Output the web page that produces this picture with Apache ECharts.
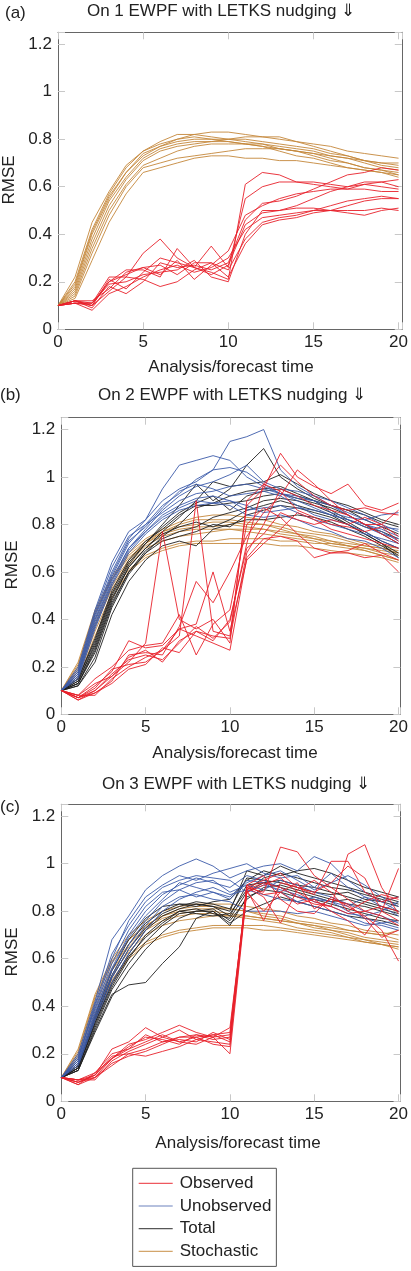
<!DOCTYPE html>
<html lang="en">
<head>
    <meta charset="UTF-8">
    <title>RMSE EWPF with LETKS nudging</title>
    <style>
        html, body {
            margin: 0;
            padding: 0;
            background: #fff;
        }
        #chart {
            width: 411px;
            height: 1271px;
        }
    </style>
    <script src="https://cdn.jsdelivr.net/npm/echarts@6/dist/echarts.min.js"></script>
</head>
<body>
    <div id="chart"></div>
    <script>
        // time axis
        const times = [0, 1, 2, 3, 4, 5, 6, 7, 8, 9, 10, 11, 12, 13, 14, 15, 16, 17, 18, 19, 20];
        const xTicks = [0, 5, 10, 15, 20];
        const yTicks = [0, 0.2, 0.4, 0.6, 0.8, 1, 1.2];
        const groupNames = ['Observed', 'Unobserved', 'Total', 'Stochastic'];
        const panelTitles = ['On 1 EWPF with LETKS nudging \u21d3', 'On 2 EWPF with LETKS nudging \u21d3', 'On 3 EWPF with LETKS nudging \u21d3'];
        const panelLabels = ['(a)', '(b)', '(c)'];

        // (a) On 1
        const stochA = [
            [0.10,0.22,0.45,0.58,0.69,0.75,0.79,0.82,0.82,0.81,0.80,0.79,0.78,0.76,0.75,0.73,0.71,0.70,0.68,0.67,0.65],
            [0.10,0.20,0.42,0.57,0.68,0.75,0.78,0.80,0.82,0.83,0.83,0.82,0.81,0.81,0.79,0.78,0.77,0.75,0.74,0.73,0.72],
            [0.10,0.18,0.40,0.55,0.66,0.74,0.77,0.79,0.80,0.80,0.80,0.80,0.79,0.78,0.77,0.76,0.74,0.73,0.71,0.70,0.69],
            [0.10,0.17,0.38,0.54,0.64,0.72,0.76,0.78,0.79,0.79,0.79,0.78,0.77,0.76,0.75,0.74,0.72,0.70,0.68,0.67,0.66],
            [0.10,0.16,0.36,0.52,0.63,0.71,0.75,0.77,0.78,0.79,0.80,0.81,0.81,0.80,0.79,0.77,0.75,0.73,0.71,0.69,0.68],
            [0.10,0.15,0.34,0.50,0.61,0.69,0.72,0.75,0.77,0.78,0.78,0.78,0.77,0.75,0.73,0.72,0.70,0.68,0.67,0.66,0.64],
            [0.10,0.14,0.32,0.48,0.60,0.68,0.70,0.72,0.73,0.74,0.75,0.76,0.76,0.76,0.75,0.74,0.73,0.72,0.71,0.70,0.70],
            [0.10,0.13,0.29,0.45,0.57,0.66,0.68,0.70,0.72,0.73,0.73,0.72,0.72,0.71,0.71,0.70,0.69,0.68,0.67,0.66,0.65],
            [0.10,0.19,0.41,0.56,0.66,0.73,0.77,0.80,0.81,0.80,0.79,0.78,0.78,0.77,0.76,0.75,0.73,0.72,0.70,0.68,0.67]
        ];
        const obsA = [
            [0.10,0.12,0.11,0.22,0.22,0.32,0.38,0.30,0.26,0.24,0.21,0.61,0.66,0.65,0.62,0.62,0.61,0.60,0.61,0.60,0.59],
            [0.10,0.11,0.10,0.20,0.25,0.25,0.22,0.34,0.26,0.35,0.26,0.55,0.60,0.62,0.62,0.61,0.60,0.59,0.59,0.58,0.58],
            [0.10,0.12,0.09,0.18,0.15,0.20,0.28,0.26,0.27,0.25,0.28,0.46,0.53,0.54,0.56,0.59,0.62,0.65,0.66,0.68,0.67],
            [0.10,0.11,0.11,0.19,0.20,0.23,0.24,0.25,0.29,0.22,0.20,0.40,0.50,0.50,0.52,0.55,0.58,0.60,0.62,0.62,0.63],
            [0.10,0.12,0.12,0.17,0.24,0.26,0.23,0.29,0.21,0.27,0.33,0.48,0.52,0.55,0.57,0.58,0.59,0.59,0.61,0.62,0.60],
            [0.10,0.11,0.08,0.15,0.18,0.22,0.25,0.27,0.24,0.26,0.30,0.42,0.47,0.48,0.49,0.50,0.52,0.54,0.55,0.56,0.55],
            [0.10,0.12,0.10,0.16,0.22,0.21,0.18,0.20,0.25,0.28,0.25,0.38,0.45,0.47,0.48,0.50,0.50,0.49,0.48,0.50,0.51],
            [0.10,0.11,0.11,0.20,0.23,0.26,0.27,0.23,0.28,0.28,0.22,0.36,0.44,0.46,0.47,0.49,0.50,0.52,0.54,0.55,0.55],
            [0.10,0.12,0.10,0.21,0.17,0.24,0.30,0.28,0.26,0.23,0.27,0.44,0.49,0.50,0.51,0.51,0.50,0.50,0.50,0.51,0.50]
        ];

        // (b) On 2
        const stochB = [
            [0.10,0.22,0.44,0.58,0.68,0.74,0.78,0.81,0.83,0.84,0.84,0.83,0.82,0.80,0.79,0.77,0.76,0.74,0.72,0.71,0.70],
            [0.10,0.20,0.42,0.57,0.67,0.73,0.77,0.79,0.80,0.81,0.81,0.80,0.80,0.79,0.77,0.76,0.75,0.73,0.71,0.70,0.68],
            [0.10,0.19,0.40,0.55,0.65,0.72,0.76,0.78,0.79,0.79,0.80,0.79,0.78,0.76,0.75,0.74,0.72,0.71,0.70,0.68,0.67],
            [0.10,0.18,0.38,0.54,0.64,0.71,0.75,0.77,0.78,0.78,0.78,0.77,0.76,0.75,0.74,0.73,0.71,0.70,0.69,0.67,0.65],
            [0.10,0.17,0.37,0.53,0.63,0.70,0.73,0.75,0.76,0.77,0.78,0.78,0.78,0.77,0.76,0.75,0.73,0.72,0.71,0.70,0.69],
            [0.10,0.16,0.35,0.51,0.61,0.67,0.70,0.72,0.73,0.73,0.74,0.74,0.74,0.73,0.73,0.72,0.72,0.71,0.70,0.69,0.68],
            [0.10,0.21,0.43,0.57,0.66,0.72,0.77,0.80,0.82,0.82,0.82,0.81,0.80,0.78,0.76,0.74,0.73,0.71,0.69,0.67,0.65],
            [0.10,0.15,0.33,0.49,0.60,0.66,0.69,0.71,0.72,0.72,0.72,0.72,0.72,0.71,0.71,0.70,0.69,0.68,0.67,0.66,0.64]
        ];
        const totalB = [
            [0.10,0.14,0.30,0.50,0.63,0.72,0.80,0.88,0.97,0.90,0.95,1.05,1.12,1.00,0.95,0.91,0.88,0.86,0.84,0.81,0.79],
            [0.10,0.13,0.28,0.48,0.62,0.70,0.77,0.83,0.90,0.98,0.96,0.97,0.98,1.01,0.97,0.93,0.90,0.88,0.85,0.82,0.80],
            [0.10,0.12,0.24,0.45,0.59,0.68,0.75,0.80,0.87,0.89,0.92,0.94,0.95,0.96,0.93,0.90,0.88,0.86,0.82,0.79,0.76],
            [0.10,0.15,0.32,0.52,0.65,0.73,0.78,0.84,0.88,0.88,0.89,0.90,0.92,0.93,0.91,0.89,0.87,0.84,0.80,0.76,0.72],
            [0.10,0.13,0.27,0.47,0.60,0.69,0.74,0.77,0.79,0.83,0.85,0.87,0.90,0.91,0.90,0.88,0.85,0.81,0.77,0.73,0.70],
            [0.10,0.12,0.22,0.42,0.56,0.65,0.71,0.73,0.71,0.78,0.80,0.82,0.82,0.83,0.84,0.83,0.81,0.78,0.75,0.71,0.67],
            [0.10,0.14,0.29,0.49,0.62,0.70,0.76,0.79,0.81,0.79,0.82,0.86,0.88,0.90,0.88,0.86,0.84,0.80,0.76,0.72,0.68],
            [0.10,0.13,0.26,0.46,0.60,0.68,0.73,0.75,0.77,0.80,0.79,0.84,0.86,0.88,0.87,0.85,0.83,0.80,0.76,0.72,0.66],
            [0.10,0.15,0.31,0.51,0.64,0.72,0.79,0.85,0.89,0.92,0.86,0.92,0.94,0.95,0.92,0.90,0.86,0.82,0.79,0.77,0.74]
        ];
        const unobsB = [
            [0.10,0.20,0.44,0.64,0.77,0.82,0.95,1.05,1.07,1.09,1.07,1.00,0.96,0.93,0.90,0.87,0.84,0.82,0.80,0.78,0.75],
            [0.10,0.18,0.42,0.60,0.74,0.82,0.90,0.95,0.98,1.03,1.15,1.17,1.20,1.03,0.96,0.92,0.88,0.84,0.80,0.77,0.73],
            [0.10,0.17,0.40,0.58,0.72,0.80,0.88,0.93,0.99,1.03,1.04,1.02,0.97,0.93,0.91,0.90,0.85,0.83,0.82,0.84,0.85],
            [0.10,0.16,0.38,0.56,0.70,0.78,0.86,0.92,0.96,0.98,1.01,1.05,0.98,0.95,0.94,0.92,0.90,0.87,0.84,0.80,0.77],
            [0.10,0.19,0.43,0.62,0.75,0.80,0.85,0.90,0.93,0.94,0.96,0.97,0.95,0.93,0.92,0.90,0.88,0.85,0.82,0.79,0.78],
            [0.10,0.15,0.36,0.54,0.68,0.76,0.82,0.86,0.88,0.89,0.90,0.88,0.85,0.86,0.87,0.86,0.84,0.82,0.79,0.76,0.74],
            [0.10,0.17,0.39,0.57,0.70,0.77,0.83,0.87,0.90,0.89,0.88,0.84,0.83,0.84,0.82,0.79,0.77,0.74,0.73,0.70,0.66],
            [0.10,0.18,0.41,0.59,0.73,0.79,0.87,0.94,0.97,0.95,0.92,0.93,0.94,0.92,0.88,0.84,0.82,0.80,0.77,0.73,0.70],
            [0.10,0.16,0.37,0.55,0.69,0.77,0.84,0.88,0.91,0.92,0.90,0.86,0.87,0.88,0.85,0.82,0.80,0.78,0.76,0.74,0.72]
        ];
        const obsB = [
            [0.10,0.07,0.10,0.16,0.22,0.30,0.77,0.40,0.36,0.40,0.30,0.90,0.97,1.05,0.98,0.92,0.88,0.86,0.87,0.85,0.84],
            [0.10,0.08,0.08,0.15,0.20,0.24,0.27,0.33,0.90,0.35,0.33,0.88,0.95,1.10,1.00,0.96,0.93,0.97,0.88,0.86,0.89],
            [0.10,0.06,0.09,0.14,0.25,0.26,0.25,0.37,0.56,0.47,0.60,0.75,0.85,0.92,1.03,0.97,0.90,0.84,0.80,0.80,0.75],
            [0.10,0.07,0.12,0.18,0.31,0.28,0.29,0.36,0.38,0.60,0.35,0.65,0.72,0.78,0.85,0.82,0.78,0.76,0.74,0.72,0.70],
            [0.10,0.08,0.15,0.20,0.27,0.29,0.30,0.42,0.25,0.38,0.44,0.80,0.87,0.83,0.76,0.70,0.68,0.69,0.72,0.68,0.65],
            [0.10,0.07,0.11,0.19,0.21,0.22,0.27,0.36,0.33,0.30,0.27,0.66,0.74,0.75,0.73,0.66,0.68,0.68,0.66,0.67,0.60],
            [0.10,0.06,0.10,0.17,0.23,0.25,0.23,0.30,0.37,0.32,0.39,0.72,0.97,0.94,0.86,0.83,0.80,0.79,0.77,0.79,0.73],
            [0.10,0.07,0.09,0.13,0.19,0.21,0.28,0.26,0.35,0.33,0.32,0.68,0.80,0.95,0.92,0.88,0.86,0.84,0.80,0.76,0.72],
            [0.10,0.08,0.13,0.16,0.24,0.27,0.22,0.31,0.35,0.31,0.40,0.70,0.76,0.85,0.82,0.80,0.82,0.80,0.83,0.80,0.86]
        ];

        // (c) On 3
        const stochC = [
            [0.10,0.22,0.45,0.60,0.70,0.76,0.80,0.82,0.83,0.83,0.83,0.82,0.81,0.80,0.78,0.77,0.75,0.74,0.72,0.71,0.70],
            [0.10,0.20,0.43,0.58,0.68,0.74,0.78,0.80,0.81,0.81,0.81,0.80,0.79,0.78,0.76,0.75,0.74,0.72,0.71,0.70,0.68],
            [0.10,0.19,0.41,0.56,0.66,0.73,0.77,0.79,0.80,0.80,0.79,0.78,0.77,0.76,0.75,0.73,0.72,0.71,0.69,0.68,0.67],
            [0.10,0.18,0.39,0.55,0.65,0.72,0.76,0.78,0.79,0.79,0.78,0.77,0.76,0.75,0.73,0.72,0.71,0.69,0.68,0.67,0.66],
            [0.10,0.17,0.37,0.53,0.63,0.70,0.74,0.76,0.77,0.78,0.78,0.78,0.77,0.76,0.75,0.74,0.73,0.72,0.71,0.70,0.72],
            [0.10,0.16,0.35,0.51,0.61,0.67,0.70,0.72,0.73,0.74,0.74,0.74,0.74,0.73,0.72,0.71,0.70,0.69,0.67,0.66,0.65],
            [0.10,0.21,0.44,0.59,0.68,0.74,0.78,0.81,0.82,0.82,0.81,0.80,0.78,0.77,0.75,0.74,0.72,0.70,0.68,0.66,0.64],
            [0.10,0.15,0.34,0.50,0.60,0.66,0.69,0.71,0.72,0.73,0.73,0.73,0.72,0.72,0.71,0.70,0.69,0.68,0.67,0.66,0.65]
        ];
        const totalC = [
            [0.10,0.13,0.30,0.45,0.49,0.50,0.58,0.65,0.77,0.80,0.75,0.80,0.83,0.86,0.84,0.82,0.80,0.78,0.77,0.76,0.74],
            [0.10,0.14,0.33,0.50,0.62,0.72,0.78,0.81,0.83,0.82,0.80,0.97,0.95,0.99,0.96,0.94,0.92,0.90,0.88,0.86,0.84],
            [0.10,0.15,0.35,0.53,0.66,0.75,0.80,0.83,0.82,0.84,0.85,0.93,0.97,0.95,0.97,0.98,0.96,0.93,0.90,0.88,0.86],
            [0.10,0.14,0.32,0.48,0.60,0.70,0.76,0.80,0.81,0.79,0.77,0.88,0.92,0.93,0.91,0.90,0.88,0.86,0.84,0.82,0.80],
            [0.10,0.13,0.31,0.47,0.58,0.67,0.74,0.79,0.80,0.81,0.76,0.85,0.90,0.91,0.89,0.87,0.85,0.83,0.82,0.80,0.78],
            [0.10,0.15,0.36,0.55,0.68,0.77,0.82,0.83,0.83,0.82,0.78,0.91,0.92,0.90,0.88,0.86,0.84,0.85,0.83,0.81,0.79],
            [0.10,0.14,0.34,0.52,0.64,0.73,0.79,0.82,0.84,0.83,0.81,0.94,0.93,0.92,0.90,0.88,0.87,0.88,0.85,0.84,0.82],
            [0.10,0.13,0.29,0.44,0.55,0.64,0.71,0.77,0.80,0.80,0.74,0.86,0.89,0.88,0.86,0.85,0.83,0.81,0.79,0.77,0.76],
            [0.10,0.14,0.33,0.49,0.61,0.69,0.75,0.80,0.79,0.78,0.79,0.89,0.94,0.96,0.94,0.92,0.90,0.89,0.87,0.85,0.83]
        ];
        const unobsC = [
            [0.10,0.20,0.42,0.68,0.78,0.89,0.95,0.99,1.02,0.99,0.94,0.97,0.99,1.00,0.97,1.03,1.00,0.93,0.88,0.84,0.80],
            [0.10,0.18,0.40,0.60,0.76,0.86,0.91,0.95,0.93,0.96,0.98,1.00,0.96,0.94,0.95,0.90,0.96,0.90,0.86,0.82,0.78],
            [0.10,0.17,0.38,0.56,0.70,0.80,0.87,0.91,0.94,0.92,0.90,0.95,0.93,0.90,0.86,0.85,0.84,0.82,0.86,0.84,0.86],
            [0.10,0.16,0.36,0.53,0.66,0.76,0.84,0.89,0.92,0.93,0.88,0.91,0.89,0.93,0.91,0.88,0.86,0.83,0.80,0.78,0.75],
            [0.10,0.19,0.39,0.58,0.72,0.82,0.88,0.89,0.86,0.88,0.86,0.93,0.92,0.88,0.84,0.82,0.80,0.78,0.75,0.74,0.72],
            [0.10,0.15,0.34,0.50,0.62,0.72,0.80,0.85,0.88,0.90,0.87,0.89,0.87,0.85,0.84,0.86,0.84,0.80,0.77,0.75,0.76],
            [0.10,0.17,0.37,0.55,0.69,0.78,0.85,0.92,0.90,0.88,0.85,0.92,0.95,0.97,0.93,0.89,0.92,0.95,0.91,0.86,0.82],
            [0.10,0.16,0.35,0.52,0.64,0.74,0.82,0.86,0.87,0.85,0.84,0.80,0.80,0.80,0.79,0.80,0.78,0.76,0.74,0.75,0.73],
            [0.10,0.18,0.41,0.62,0.74,0.84,0.90,0.93,0.95,0.94,0.93,0.88,0.91,0.89,0.87,0.84,0.82,0.79,0.78,0.80,0.84]
        ];
        const obsC = [
            [0.10,0.09,0.11,0.22,0.25,0.31,0.27,0.25,0.27,0.28,0.29,0.90,0.88,1.07,1.05,0.95,0.90,0.85,0.80,0.82,0.80],
            [0.10,0.08,0.10,0.18,0.24,0.26,0.29,0.32,0.29,0.27,0.31,0.89,0.92,0.90,0.86,0.83,0.82,1.04,1.08,0.90,0.79],
            [0.10,0.07,0.12,0.20,0.22,0.28,0.25,0.27,0.28,0.26,0.27,0.88,0.80,0.88,0.83,0.85,0.80,0.76,0.70,0.80,0.98],
            [0.10,0.09,0.09,0.17,0.21,0.24,0.27,0.30,0.26,0.25,0.24,0.91,0.95,0.85,0.80,0.79,0.86,0.82,0.78,0.72,0.59],
            [0.10,0.08,0.11,0.19,0.20,0.22,0.25,0.26,0.25,0.29,0.26,0.90,0.86,0.75,0.89,0.93,0.88,0.80,0.84,0.87,0.85],
            [0.10,0.09,0.10,0.16,0.19,0.21,0.24,0.27,0.27,0.24,0.23,0.89,0.76,0.92,0.90,0.88,0.92,0.99,0.94,0.80,0.76],
            [0.10,0.08,0.11,0.18,0.23,0.27,0.26,0.24,0.28,0.27,0.20,0.88,0.91,0.94,0.88,0.84,0.82,0.79,0.80,0.78,0.74],
            [0.10,0.07,0.10,0.15,0.20,0.19,0.21,0.23,0.26,0.28,0.25,0.90,0.93,0.96,0.90,0.87,1.01,1.01,0.88,0.84,0.86],
            [0.10,0.09,0.12,0.18,0.22,0.25,0.28,0.25,0.24,0.27,0.28,0.91,0.87,0.88,0.92,0.81,0.85,0.83,0.77,0.69,0.72]
        ];

        const colors = {
            Observed: '#e8202a',
            Unobserved: '#3b5aa9',
            Total: '#1f1f1f',
            Stochastic: '#c4873a'
        };

        // draw order per panel: stochastic, total, unobserved, observed
        const panels = [
            [['Stochastic', stochA], ['Observed', obsA]],
            [['Stochastic', stochB], ['Total', totalB], ['Unobserved', unobsB], ['Observed', obsB]],
            [['Stochastic', stochC], ['Total', totalC], ['Unobserved', unobsC], ['Observed', obsC]]
        ];

        const grids = [
            { left: 58, top: 32.3, width: 344.7, height: 297 },
            { left: 61.3, top: 417.7, width: 343.7, height: 296.6 },
            { left: 61.3, top: 804.3, width: 344, height: 297 }
        ];
        const xMax = [20.19, 20.11, 20.12];

        const font = "'Liberation Sans', Arial, sans-serif";
        const boxColor = '#666';
        const tickColor = '#c8c8c8';

        function fmtX(v) {
            return xTicks.indexOf(Math.round(v * 100) / 100) >= 0 ? String(Math.round(v)) : '';
        }
        function fmtY(v) {
            const r = Math.round(v * 10) / 10;
            return yTicks.indexOf(r) >= 0 && Math.abs(v - r) < 1e-6 ? String(r) : '';
        }

        function makeAxis(i, isX, pos, labels) {
            return {
                gridIndex: i, type: 'value', min: 0,
                max: isX ? xMax[i] : 1.25,
                interval: isX ? 5 : 0.2,
                position: pos,
                axisLine: { show: true, onZero: false, lineStyle: { color: boxColor, width: 1 } },
                axisTick: { show: true, inside: true, length: 7, lineStyle: { color: tickColor } },
                axisLabel: labels ? {
                    formatter: isX ? fmtX : fmtY,
                    margin: isX ? 5 : 6,
                    color: '#222', fontSize: 17, fontFamily: font
                } : { show: false },
                splitLine: { show: false }
            };
        }

        const xAxes = [];
        const yAxes = [];
        grids.forEach((g, i) => {
            xAxes.push(makeAxis(i, true, 'bottom', true));
            xAxes.push(makeAxis(i, true, 'top', false));
            yAxes.push(makeAxis(i, false, 'left', true));
            yAxes.push(makeAxis(i, false, 'right', false));
        });

        const series = [];
        panels.forEach((groups, p) => {
            groups.forEach(([name, lines]) => {
                lines.forEach(line => {
                    series.push({
                        name: name,
                        type: 'line',
                        xAxisIndex: p * 2,
                        yAxisIndex: p * 2,
                        data: times.map((t, k) => [t, line[k]]),
                        symbol: 'none',
                        silent: true,
                        animation: false,
                        lineStyle: { color: colors[name], width: 0.9 },
                        itemStyle: { color: colors[name] }
                    });
                });
            });
        });

        function txt(text, x, y, align, rotate) {
            return {
                type: 'text',
                x: x, y: y,
                rotation: rotate ? Math.PI / 2 : 0,
                style: {
                    text: text, x: 0, y: 0,
                    fill: '#222',
                    font: '17px ' + font,
                    textAlign: align, textVerticalAlign: 'middle',
                    align: align, verticalAlign: 'middle'
                }
            };
        }

        const titlePos = [[221, 11], [232, 395], [236, 784]];
        const labelPos = [[5, 13], [0, 395], [0, 807]];
        const xNamePos = [[231, 367], [235, 753], [238, 1143]];
        const yNamePos = [[9, 180], [12, 565], [12, 952]];

        const graphics = [];
        for (let i = 0; i < 3; i++) {
            graphics.push(txt(panelTitles[i], titlePos[i][0], titlePos[i][1], 'center'));
            graphics.push(txt(panelLabels[i], labelPos[i][0], labelPos[i][1], 'left'));
            graphics.push(txt('Analysis/forecast time', xNamePos[i][0], xNamePos[i][1], 'center'));
            graphics.push(txt('RMSE', yNamePos[i][0], yNamePos[i][1], 'center', true));
        }

        const chart = echarts.init(document.getElementById('chart'), null, { renderer: 'canvas' });
        chart.setOption({
            animation: false,
            backgroundColor: '#fff',
            grid: grids,
            xAxis: xAxes,
            yAxis: yAxes,
            legend: {
                data: groupNames,
                orient: 'vertical',
                left: 132.7,
                top: 1168.3,
                padding: [6.5, 5, 6.5, 6],
                itemGap: 5.7,
                itemWidth: 34,
                itemHeight: 1.2,
                icon: 'rect',
                itemStyle: { opacity: 0.75 },
                borderColor: '#555',
                borderWidth: 1,
                borderRadius: 0,
                selectedMode: false,
                textStyle: { fontSize: 17, lineHeight: 17, color: '#222', fontFamily: font, padding: [0, 0, 0, 2] }
            },
            graphic: graphics,
            series: series
        });
    </script>
</body>
</html>
